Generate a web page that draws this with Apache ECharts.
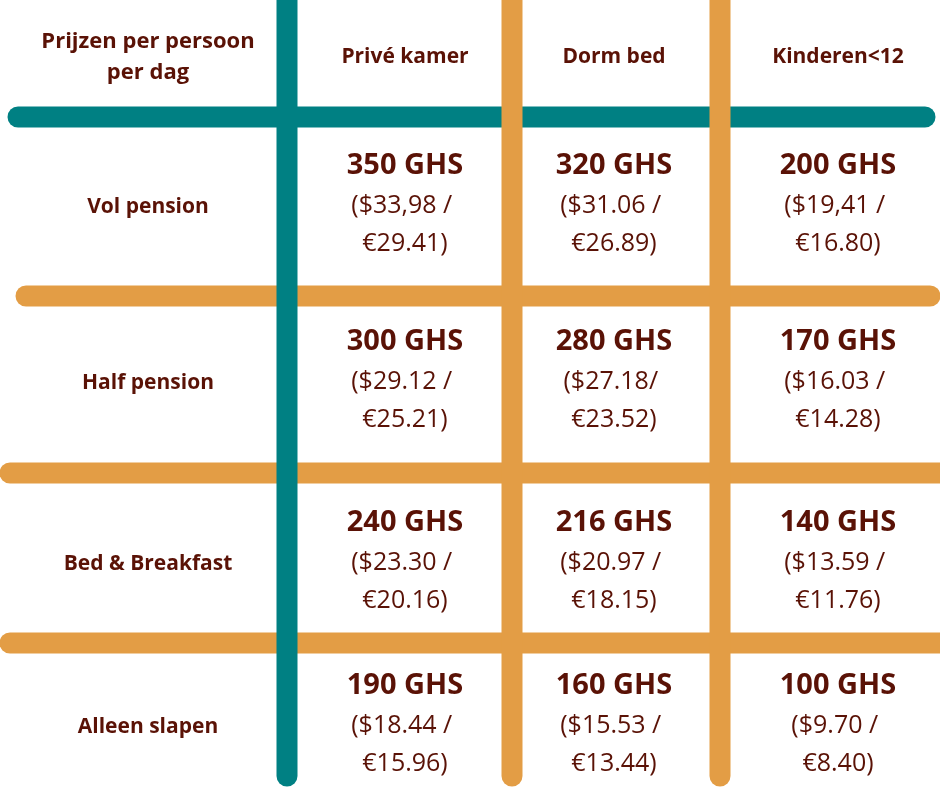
<!DOCTYPE html><html><head><meta charset="utf-8">
<script src="https://cdn.jsdelivr.net/npm/echarts@6/dist/echarts.min.js"></script>
<style>html,body{margin:0;padding:0;background:#fff}#c{width:940px;height:788px}</style></head><body><div id="c"></div><script>
const headerLabel = 'Prijzen per persoon\nper dag';
const columns = ['Privé kamer', 'Dorm bed', 'Kinderen<12'];
const rows = ['Vol pension', 'Half pension', 'Bed & Breakfast', 'Alleen slapen'];
const ghs = [[350,320,200],[300,280,170],[240,216,140],[190,160,100]];
const usd = [['33,98','31.06','19,41'],['29.12','27.18','16.03'],['23.30','20.97','13.59'],['18.44','15.53','9.70']];
const eur = [['29.41','26.89','16.80'],['25.21','23.52','14.28'],['20.16','18.15','11.76'],['15.96','13.44','8.40']];
const usdSep = [[' / ',' / ',' / '],[' / ','/ ',' / '],[' / ',' / ',' / '],[' / ',' / ',' / ']];

// layout constants
const colX = [148, 405, 614, 838];
const headerY = 57;
const rowY = [204, 380, 561, 724];
const vLines = [{x:287,c:'#008083'},{x:512,c:'#E39D45'},{x:720,c:'#E39D45'}];
const hLines = [{y:117,c:'#008083',x0:18,x1:925},{y:296,c:'#E39D45',x0:26,x1:930},{y:473,c:'#E39D45',x0:10,x1:940},{y:643,c:'#E39D45',x0:10,x1:940}];
const brown = '#5A1206';
const teal='#008083', orange='#E39D45';

const series = [];
function lineSeries(data,color,z){series.push({type:'line',data,symbol:'none',z,silent:true,lineStyle:{color,width:21,cap:'round'}});}
hLines.filter(l=>l.c===orange).forEach(l=>lineSeries([[l.x0,l.y],[l.x1,l.y]],l.c,1));
lineSeries([[vLines[0].x,0],[vLines[0].x,776]],teal,2);
hLines.filter(l=>l.c===teal).forEach(l=>lineSeries([[l.x0,l.y],[l.x1,l.y]],l.c,3));
vLines.slice(1).forEach(l=>lineSeries([[l.x,0],[l.x,776]],l.c,4));

const font = '"Open Sans", sans-serif';
const textData = [];
textData.push({value:[colX[0],headerY],label:{formatter:headerLabel,fontSize:22,fontWeight:'bold',lineHeight:31}});
columns.forEach((c,i)=>textData.push({value:[colX[i+1],headerY],label:{formatter:c,fontSize:21,fontWeight:'bold'}}));
rows.forEach((r,j)=>{
  textData.push({value:[colX[0],rowY[j]+3],label:{formatter:r,fontSize:21,fontWeight:'bold'}});
  for(let i=0;i<3;i++){
    textData.push({value:[colX[i+1],rowY[j]],label:{
      formatter:'{a|'+ghs[j][i]+' GHS}\n{b|($'+usd[j][i]+usdSep[j][i]+'}\n{b|€'+eur[j][i]+')}',
      rich:{a:{fontSize:29,fontWeight:'bold',color:brown,fontFamily:font,lineHeight:42},b:{fontSize:25,color:brown,fontFamily:font,lineHeight:38}}}});
  }
});
series.push({type:'scatter',symbolSize:0,z:10,itemStyle:{opacity:1},data:textData,label:{show:true,position:'inside',color:brown,fontFamily:font,align:'center',verticalAlign:'middle',opacity:1}});

const chart = echarts.init(document.getElementById('c'));
chart.setOption({animation:false,
  grid:{left:0,right:0,top:0,bottom:0},
  xAxis:{type:'value',min:0,max:940,show:false},
  yAxis:{type:'value',min:0,max:788,inverse:true,show:false},
  series});
</script></body></html>
